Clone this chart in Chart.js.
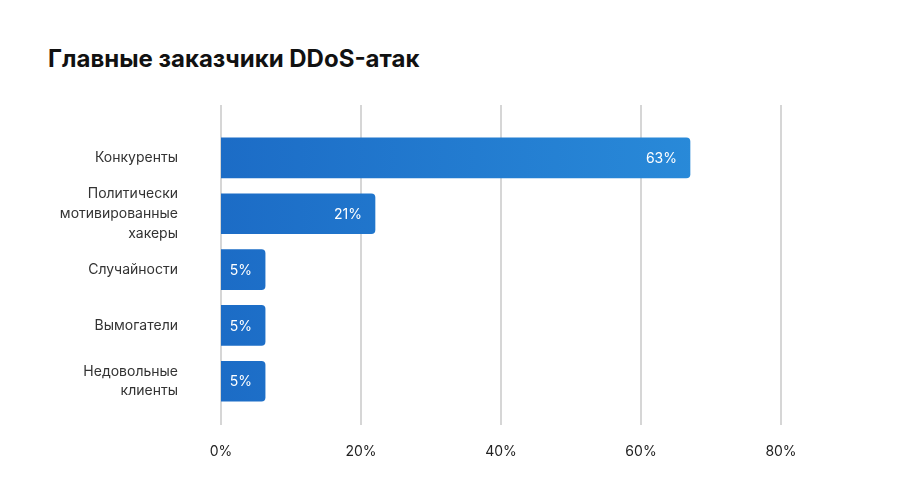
<!DOCTYPE html>
<html>
<head>
<meta charset="utf-8">
<script src="https://cdn.jsdelivr.net/npm/chart.js@4"></script>
<style>
  html, body { margin: 0; padding: 0; background: #fff; }
  #wrap { position: relative; width: 906px; height: 493px; }
  h1 { position: absolute; left: 48px; top: 44px; margin: 0; font: bold 24px Inter, sans-serif; color: #111; }
  canvas { position: absolute; left: 0; top: 0; }
</style>
</head>
<body>
<div id="wrap">
  <h1>Главные заказчики DDoS-атак</h1>
  <canvas id="myChart" width="906" height="493"></canvas>
</div>
<script>
const categories = ['Конкуренты', ['Политически', 'мотивированные', 'хакеры'], 'Случайности', 'Вымогатели', ['Недовольные', 'клиенты']];
// bar lengths as drawn in the picture, and the labels printed on them
const values = [67, 22, 6.3, 6.3, 6.3];
const valueLabels = ['63%', '21%', '5%', '5%', '5%'];
const xTicks = [0, 20, 40, 60, 80];

// vertical grid lines that run past the bars, like in the reference
const gridPlugin = {
  id: 'grid',
  beforeDatasetsDraw(chart) {
    const ctx = chart.ctx, x = chart.scales.x;
    ctx.save();
    ctx.strokeStyle = '#d6d6d6';
    ctx.lineWidth = 2;
    xTicks.forEach(t => {
      const px = Math.round(x.getPixelForValue(t));
      ctx.beginPath();
      ctx.moveTo(px, 105);
      ctx.lineTo(px, 425);
      ctx.stroke();
    });
    ctx.restore();
  }
};

const labelPlugin = {
  id: 'labels',
  afterDatasetsDraw(chart) {
    const ctx = chart.ctx;
    ctx.save();
    ctx.fillStyle = '#fff';
    ctx.font = '14px Inter, sans-serif';
    ctx.textAlign = 'right';
    ctx.textBaseline = 'middle';
    chart.getDatasetMeta(0).data.forEach((bar, i) => {
      ctx.fillText(valueLabels[i], bar.x - 13, bar.y + 1);
    });
    ctx.restore();
  }
};

const ctx = document.getElementById('myChart').getContext('2d');
const grad = ctx.createLinearGradient(221, 0, 781, 0);
grad.addColorStop(0, '#1c6cc6');
grad.addColorStop(1, '#2b8fdc');

new Chart(ctx, {
  type: 'bar',
  data: {
    labels: categories,
    datasets: [{
      data: values,
      backgroundColor: grad,
      borderRadius: 4,
      borderSkipped: 'start',
      barThickness: 40
    }]
  },
  options: {
    indexAxis: 'y',
    responsive: false,
    animation: false,
    layout: { padding: { left: 0, right: 125, top: 130, bottom: 7 } },
    plugins: { legend: { display: false }, tooltip: { enabled: false } },
    scales: {
      x: {
        min: 0, max: 80,
        grid: { display: false },
        border: { display: false },
        afterBuildTicks(s) { s.ticks = xTicks.map(v => ({ value: v })); },
        ticks: {
          padding: 26,
          color: '#222',
          font: { family: 'Inter', size: 14 },
          callback: v => v + '%'
        }
      },
      y: {
        grid: { display: false },
        border: { display: false },
        afterFit(s) { s.width = 221; },
        ticks: {
          autoSkip: false,
          padding: 35,
          color: '#333',
          font: { family: 'Inter', size: 14, lineHeight: 1.4 }
        }
      }
    }
  },
  plugins: [gridPlugin, labelPlugin]
});
</script>
</body>
</html>
